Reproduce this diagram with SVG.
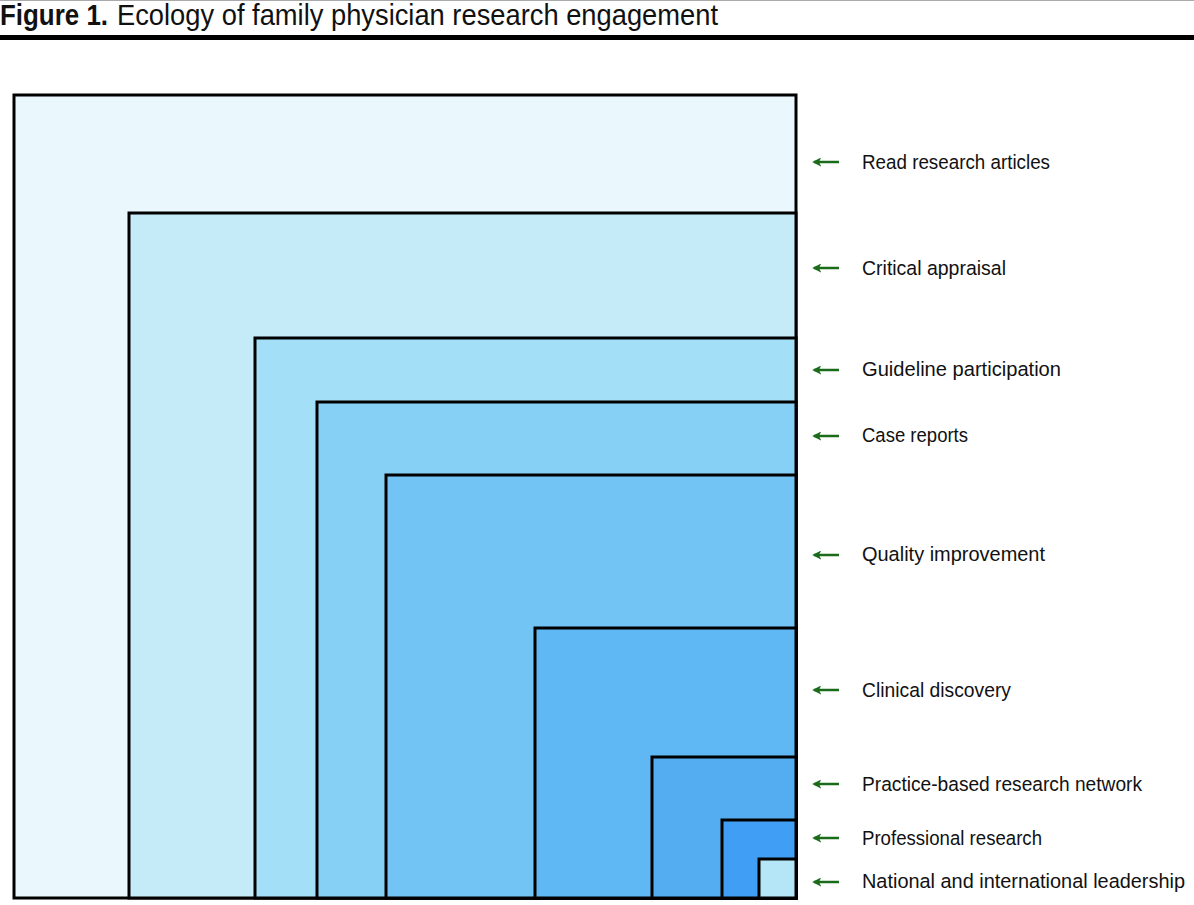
<svg xmlns="http://www.w3.org/2000/svg" width="1194" height="905" viewBox="0 0 1194 905">
<style>
.box{stroke:#000;stroke-width:3}
.lbl{font-family:"Liberation Sans",Arial,sans-serif;font-size:20.5px;fill:#111}
.arr{stroke:#1a6b1a;stroke-width:2.5;fill:none}
.title{font-family:"Liberation Sans",Arial,sans-serif;font-size:29px;fill:#111}
</style>
<defs>
<marker id="ah" viewBox="0 0 10 10" refX="8" refY="5" markerWidth="3.6" markerHeight="3.6" orient="auto" markerUnits="strokeWidth">
<path d="M10,5 L0,0 L2.5,5 L0,10 Z" fill="#1a6b1a"/>
</marker>
</defs>
<rect width="1194" height="905" fill="#fff"/>
<line x1="0" y1="0.5" x2="1194" y2="0.5" stroke="#aaa" stroke-width="1"/>
<g id="title">
<text class="title" y="25"><tspan x="0" font-weight="bold" textLength="108" lengthAdjust="spacingAndGlyphs">Figure 1.</tspan><tspan x="117" textLength="601" lengthAdjust="spacingAndGlyphs">Ecology of family physician research engagement</tspan></text>
<rect x="0" y="35" width="1194" height="5" fill="#000"/>
</g>
<g id="n1"><rect class="box" x="14" y="95" width="782" height="803" fill="#eaf7fc"/></g>
<g id="n2"><rect class="box" x="129" y="213" width="667" height="685" fill="#c5ebf8"/></g>
<g id="n3"><rect class="box" x="255" y="338" width="541" height="560" fill="#a3dff7"/></g>
<g id="n4"><rect class="box" x="317" y="402" width="479" height="496" fill="#87d0f5"/></g>
<g id="n5"><rect class="box" x="386" y="475" width="410" height="423" fill="#72c4f4"/></g>
<g id="n6"><rect class="box" x="535" y="628" width="261" height="270" fill="#5fb7f3"/></g>
<g id="n7"><rect class="box" x="652" y="757" width="144" height="141" fill="#55adf1"/></g>
<g id="n8"><rect class="box" x="722" y="820" width="74" height="78" fill="#419ef5"/></g>
<g id="n9"><rect class="box" x="759" y="859" width="37" height="39" fill="#b4e6f7"/></g>
<g id="connectors">
<line class="arr" x1="839" y1="162" x2="814" y2="162" marker-end="url(#ah)"/>
<line class="arr" x1="839" y1="268" x2="814" y2="268" marker-end="url(#ah)"/>
<line class="arr" x1="839" y1="370" x2="814" y2="370" marker-end="url(#ah)"/>
<line class="arr" x1="839" y1="436" x2="814" y2="436" marker-end="url(#ah)"/>
<line class="arr" x1="839" y1="555" x2="814" y2="555" marker-end="url(#ah)"/>
<line class="arr" x1="839" y1="690" x2="814" y2="690" marker-end="url(#ah)"/>
<line class="arr" x1="839" y1="784" x2="814" y2="784" marker-end="url(#ah)"/>
<line class="arr" x1="839" y1="838" x2="814" y2="838" marker-end="url(#ah)"/>
<line class="arr" x1="839" y1="882" x2="814" y2="882" marker-end="url(#ah)"/>
</g>
<g id="labels">
<text class="lbl" x="862" y="169" textLength="188" lengthAdjust="spacingAndGlyphs">Read research articles</text>
<text class="lbl" x="862" y="275" textLength="144" lengthAdjust="spacingAndGlyphs">Critical appraisal</text>
<text class="lbl" x="862" y="376" textLength="199" lengthAdjust="spacingAndGlyphs">Guideline participation</text>
<text class="lbl" x="862" y="442" textLength="106" lengthAdjust="spacingAndGlyphs">Case reports</text>
<text class="lbl" x="862" y="561" textLength="183" lengthAdjust="spacingAndGlyphs">Quality improvement</text>
<text class="lbl" x="862" y="697" textLength="149" lengthAdjust="spacingAndGlyphs">Clinical discovery</text>
<text class="lbl" x="862" y="791" textLength="280" lengthAdjust="spacingAndGlyphs">Practice-based research network</text>
<text class="lbl" x="862" y="845" textLength="180" lengthAdjust="spacingAndGlyphs">Professional research</text>
<text class="lbl" x="862" y="888" textLength="323" lengthAdjust="spacingAndGlyphs">National and international leadership</text>
</g>
</svg>
